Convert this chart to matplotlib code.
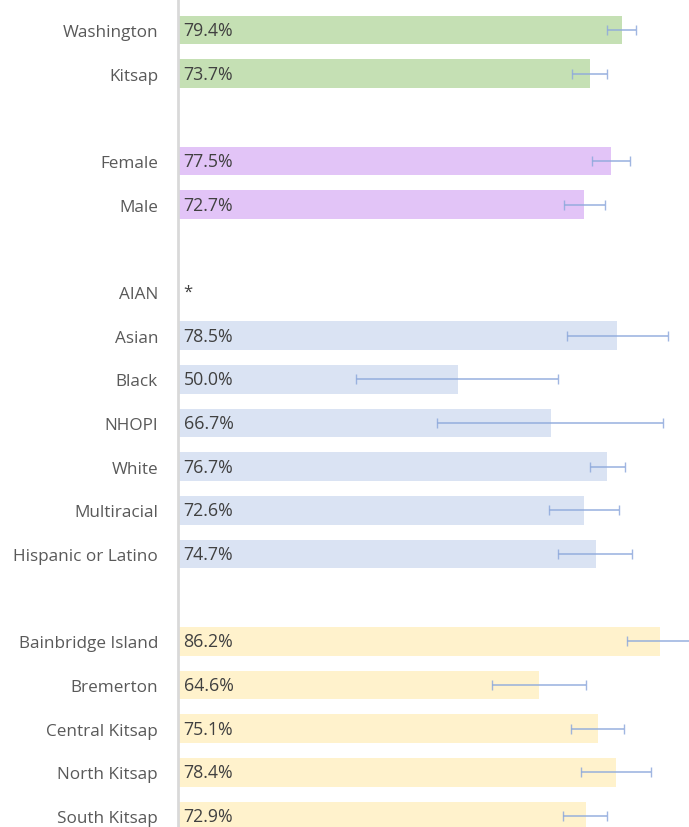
import numpy as np
import matplotlib.pyplot as plt

plt.rcParams['font.family'] = ['Open Sans', 'DejaVu Sans']

# groups of categories, a blank slot between groups
geo = ['Washington', 'Kitsap']
sex = ['Female', 'Male']
race = ['AIAN', 'Asian', 'Black', 'NHOPI', 'White', 'Multiracial', 'Hispanic or Latino']
district = ['Bainbridge Island', 'Bremerton', 'Central Kitsap', 'North Kitsap', 'South Kitsap']

geo_val = [79.4, 73.7]
sex_val = [77.5, 72.7]
race_val = [None, 78.5, 50.0, 66.7, 76.7, 72.6, 74.7]
district_val = [86.2, 64.6, 75.1, 78.4, 72.9]

geo_lo = [76.8, 70.5]
geo_hi = [81.9, 76.8]
sex_lo = [74.0, 69.0]
sex_hi = [80.8, 76.3]
race_lo = [None, 69.5, 31.9, 46.4, 73.7, 66.3, 67.9]
race_hi = [None, 87.6, 67.9, 86.8, 79.9, 78.8, 81.2]
district_lo = [80.3, 56.1, 70.3, 72.0, 68.9]
district_hi = [93.0, 72.9, 79.7, 84.6, 76.8]

groups = [
    (geo, geo_val, geo_lo, geo_hi, '#c5e0b4'),
    (sex, sex_val, sex_lo, sex_hi, '#e2c4f7'),
    (race, race_val, race_lo, race_hi, '#dae3f3'),
    (district, district_val, district_lo, district_hi, '#fff2cc'),
]

fig = plt.figure(figsize=(6.89, 8.28), dpi=100)
ax = fig.add_axes([178 / 689, 0, 1 - 178 / 689, 1])

labels = []
ticks = []
pos = 0
for names, vals, lo, hi, color in groups:
    for name, v, l, h in zip(names, vals, lo, hi):
        ticks.append(pos)
        labels.append(name)
        if v is None:
            ax.text(1.0, pos, '*', va='center', ha='left', fontsize=12, color='#404040')
        else:
            ax.barh(pos, v, height=0.66, color=color, zorder=1)
            ax.errorbar(v, pos, xerr=[[v - l], [h - v]], fmt='none',
                        ecolor='#8faadc', elinewidth=1.2, capsize=3.5,
                        capthick=1.0, alpha=0.85, zorder=2)
            ax.text(1.0, pos, f'{v:.1f}%', va='center', ha='left',
                    fontsize=12.8, color='#404040', zorder=3)
        pos += 1
    pos += 1

ax.set_xlim(0, 91.4)
ax.set_ylim(18.25, -0.71)
ax.set_yticks(ticks)
ax.set_yticklabels(labels, fontsize=12.3, color='#595959')
ax.tick_params(axis='y', length=0, pad=14.4)
ax.set_xticks([])
for side in ['top', 'right', 'bottom']:
    ax.spines[side].set_visible(False)
ax.spines['left'].set_color('#d9d9d9')
ax.spines['left'].set_linewidth(2)

fig.savefig('out.png', dpi=100)
